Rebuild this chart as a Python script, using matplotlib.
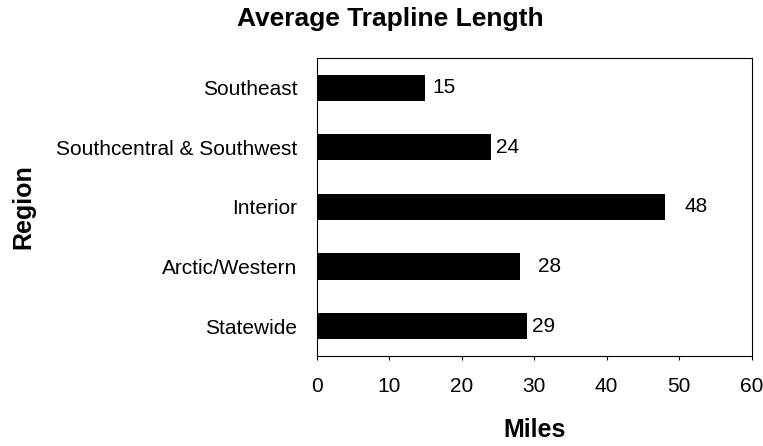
import matplotlib.pyplot as plt

# Data
regions = ["Southeast", "Southcentral & Southwest", "Interior", "Arctic/Western", "Statewide"]
miles = [15, 24, 48, 28, 29]
label_pad = [5, 4, 14, 13, 4]

plt.rcParams['font.family'] = ['Liberation Sans', 'DejaVu Sans']

fig = plt.figure(figsize=(7.63, 4.46), dpi=100)
ax = fig.add_axes([0.415, 0.202, 0.570, 0.668])

y = list(range(len(regions)))[::-1]
bars = ax.barh(y, miles, height=0.44, color="black")
for b, v, p in zip(bars, miles, label_pad):
    ax.annotate(str(v), (b.get_width(), b.get_y() + b.get_height() / 2),
                xytext=(p, 0), textcoords="offset points",
                va="center", ha="left", fontsize=15)

ax.set_xlim(0, 60)
ax.set_ylim(-0.5, len(regions) - 0.5)
ax.set_xticks(range(0, 61, 10))
ax.set_yticks(y)
ax.set_yticklabels(regions)
ax.tick_params(axis="x", labelsize=15, length=3, width=0.8, pad=12)
ax.tick_params(axis="y", labelsize=15, length=0, pad=14)
for s in ax.spines.values():
    s.set_linewidth(0.8)
    s.set_color("black")

ax.set_xlabel("Miles", fontsize=18, fontweight="bold", va="center")
ax.xaxis.set_label_coords(0.5, -0.248)
fig.text(0.030, 0.536, "Region", rotation=90, fontsize=18, fontweight="bold",
         ha="center", va="center")
fig.text(0.512, 0.957, "Average Trapline Length", fontsize=19, fontweight="bold",
         ha="center", va="center")

fig.savefig("out.png", dpi=100)
